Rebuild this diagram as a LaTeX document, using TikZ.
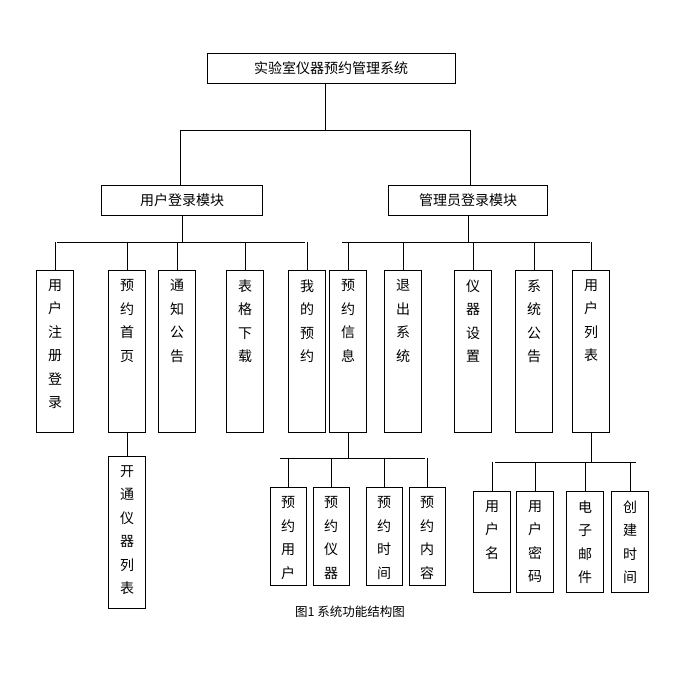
\documentclass[tikz,border=0pt]{standalone}
\usepackage{fontspec}
\setmainfont{Noto Sans CJK SC}
\usetikzlibrary{positioning,calc}
\tikzset{
	org chart/.style={
		x=1pt, y=-1pt,
		every node/.style={font=\fontsize{14pt}{23.5pt}\selectfont},
		line width=.8pt},
	hbox/.style={draw, minimum height=30pt, inner sep=0pt},
	col/.style={draw, anchor=north, minimum width=#1, inner sep=0pt},
	col/.default=37pt
}
\newcommand{\vtext}[2]{\parbox[c][#1][t]{1.1em}{\centering\vspace{9pt}#2}}
\begin{document}
\begin{tikzpicture}[org chart]
   \useasboundingbox (0,0) rectangle (698,678);
   \node[hbox, minimum width=248pt] (sys) at (331,68) {实验室仪器预约管理系统};
   \node[hbox, minimum width=161pt] (usr) at (182,200) {用户登录模块};
   \node[hbox, minimum width=159pt] (adm) at (468,200) {管理员登录模块};
   % first level
   \draw (sys.south -| 325,0) -- (325,130);
   \draw (180,130) -- (470,130);
   \draw (180,130) -- (usr.north -| 180,0);
   \draw (470,130) -- (adm.north -| 470,0);
   % columns
   \foreach \name/\x/\txt in {u1/55/用\\户\\注\\册\\登\\录, u2/127/预\\约\\首\\页,
         u3/177/通\\知\\公\\告, u4/245/表\\格\\下\\载, u5/307/我\\的\\预\\约,
         a1/348/预\\约\\信\\息, a2/403/退\\出\\系\\统, a3/473/仪\\器\\设\\置,
         a4/534/系\\统\\公\\告, a5/591/用\\户\\列\\表}
      \node[col] (\name) at (\x,270) {\vtext{162pt}{\txt}};
   \draw (usr.south) -- (182,242);
   \draw (57,242) -- (305,242);
   \foreach \name in {u1,u2,u3,u4,u5}
      \draw (\name.north) -- (\name.north |- 0,242);
   \draw (adm.south) -- (468,242);
   \draw (342,242) -- (590,242);
   \foreach \name in {a1,a2,a3,a4,a5}
      \draw (\name.north) -- (\name.north |- 0,242);
   % sub columns
   \node[col] (open) at (127,456) {\vtext{152pt}{开\\通\\仪\\器\\列\\表}};
   \draw (u2.south) -- (open.north);
   \foreach \name/\x/\txt in {r1/288/预\\约\\用\\户, r2/331/预\\约\\仪\\器,
         r3/384/预\\约\\时\\间, r4/427/预\\约\\内\\容}
      \node[col=36pt] (\name) at (\x,487) {\vtext{98pt}{\txt}};
   \draw (a1.south) -- (348,458);
   \draw (280,458) -- (425,458);
   \foreach \name in {r1,r2,r3,r4}
      \draw (\name.north) -- (\name.north |- 0,458);
   \foreach \name/\x/\txt in {l1/492/用\\户\\名, l2/535/用\\户\\密\\码,
         l3/585/电\\子\\邮\\件, l4/630/创\\建\\时\\间}
      \node[col] (\name) at (\x,491) {\vtext{101pt}{\txt}};
   \draw (a5.south) -- (591,462);
   \draw (495,462) -- (636,462);
   \foreach \name in {l1,l2,l3,l4}
      \draw (\name.north) -- (\name.north |- 0,462);
   \node[font=\fontsize{12.5pt}{14pt}\selectfont] (cap) at (350,612) {图1 系统功能结构图};
\end{tikzpicture}
\end{document}
